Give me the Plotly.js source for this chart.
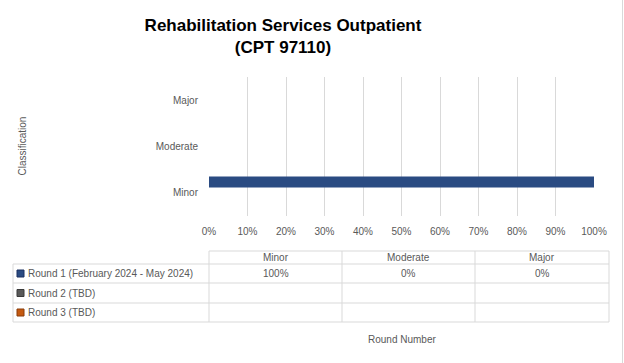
<!DOCTYPE html>
<html><head><meta charset="utf-8">
<script src="https://cdn.plot.ly/plotly-3.0.1.min.js"></script>
<style>html,body{margin:0;padding:0;background:#fff}</style></head>
<body>
<div id="chart" style="width:624px;height:363px"></div>
<script>
const categories = ['Minor', 'Moderate', 'Major'];
const seriesNames = ['Round 1 (February 2024 - May 2024)', 'Round 2 (TBD)', 'Round 3 (TBD)'];
const round1 = [100, 0, 0];
const round2 = [null, null, null];
const round3 = [null, null, null];
const xTickVals = [0, 10, 20, 30, 40, 50, 60, 70, 80, 90, 100];
const xTickText = ['0%', '10%', '20%', '30%', '40%', '50%', '60%', '70%', '80%', '90%', '100%'];
const seriesColors = ['#2a4b82', '#595959', '#c55a11'];
const seriesLines = ['#1a3160', '#3a3a3a', '#8a3c0a'];

const allSeries = [round1, round2, round3];

const W = 624, H = 363;
const M = {l: 209, r: 30, t: 77, b: 147};
const pw = W - M.l - M.r, ph = H - M.t - M.b;
const px = x => (x - M.l) / pw;
const py = y => (H - M.b - y) / ph;

const font = 'Liberation Sans, Arial, sans-serif';
const grey = '#595959';
const lineCol = '#d9d9d9';

// traces: reversed so Round 1 is drawn at the top of each group
const traces = [];
for (let i = allSeries.length - 1; i >= 0; i--) {
  traces.push({
    type: 'bar', orientation: 'h',
    y: categories, x: allSeries[i], name: seriesNames[i],
    marker: {color: seriesColors[i], line: {color: seriesLines[i], width: 0}},
    showlegend: false, hoverinfo: 'skip'
  });
}

const shapes = [];
const annotations = [];
const hl = (y, x0, x1) => shapes.push({type: 'line', xref: 'paper', yref: 'paper', x0: px(x0), x1: px(x1), y0: py(y), y1: py(y), line: {color: lineCol, width: 1}});
const vl = (x, y0, y1) => shapes.push({type: 'line', xref: 'paper', yref: 'paper', x0: px(x), x1: px(x), y0: py(y0), y1: py(y1), line: {color: lineCol, width: 1}});

// table grid
const colX = [209, 342, 475, 609];
const rowY = [251, 264, 283, 303, 322];
hl(rowY[0], colX[0], colX[3]);
for (let r = 1; r < rowY.length; r++) hl(rowY[r], 13, colX[3]);
vl(13, rowY[1], rowY[4]);
colX.forEach(x => vl(x, rowY[0], rowY[4]));
// chart border right
vl(622.5, 0, H);

// header
categories.forEach((c, j) => {
  annotations.push({xref: 'paper', yref: 'paper', x: px((colX[j] + colX[j + 1]) / 2), y: py((rowY[0] + rowY[1]) / 2),
    text: c, showarrow: false, xanchor: 'center', yanchor: 'middle', font: {family: font, size: 10, color: grey}});
});
// rows
seriesNames.forEach((s, i) => {
  const yc = (rowY[i + 1] + rowY[i + 2]) / 2;
  shapes.push({type: 'rect', xref: 'paper', yref: 'paper', x0: px(17), x1: px(24), y0: py(yc - 3.5), y1: py(yc + 3.5),
    fillcolor: seriesColors[i], line: {color: seriesLines[i], width: 1}});
  annotations.push({xref: 'paper', yref: 'paper', x: px(26), y: py(yc), text: s, showarrow: false,
    xanchor: 'left', yanchor: 'middle', font: {family: font, size: 10, color: grey}});
  allSeries[i].forEach((v, j) => {
    if (v === null) return;
    annotations.push({xref: 'paper', yref: 'paper', x: px((colX[j] + colX[j + 1]) / 2), y: py(yc),
      text: v + '%', showarrow: false, xanchor: 'center', yanchor: 'middle', font: {family: font, size: 10, color: grey}});
  });
});
// axis titles
annotations.push({xref: 'paper', yref: 'paper', x: px(401.5), y: py(339), text: 'Round Number', showarrow: false,
  xanchor: 'center', yanchor: 'middle', font: {family: font, size: 10, color: grey}});
annotations.push({xref: 'paper', yref: 'paper', x: px(22), y: py(146.5), text: 'Classification', showarrow: false,
  textangle: -90, xanchor: 'center', yanchor: 'middle', font: {family: font, size: 10, color: grey}});

const layout = {
  width: W, height: H, margin: M,
  paper_bgcolor: '#fff', plot_bgcolor: '#fff',
  title: {text: '<b>Rehabilitation Services Outpatient<br>(CPT 97110)</b>', xref: 'container', yref: 'container',
    x: 283 / W, xanchor: 'center', y: 1 - 31 / H, yanchor: 'middle',
    font: {family: font, size: 17, color: '#000'}},
  barmode: 'group', bargap: 0.3, bargroupgap: 0,
  xaxis: {range: [0, 100], tickvals: xTickVals, ticktext: xTickText, showgrid: true, gridcolor: lineCol, gridwidth: 1,
    zeroline: false, showline: false, ticks: '', ticklabelstandoff: 8, tickfont: {family: font, size: 10, color: grey}, fixedrange: true},
  yaxis: {categoryorder: 'array', categoryarray: categories, showgrid: false, zeroline: false, showline: false, ticks: '',
    ticklabelstandoff: 10, tickfont: {family: font, size: 10, color: grey}, fixedrange: true},
  shapes: shapes, annotations: annotations, showlegend: false
};

Plotly.newPlot('chart', traces, layout, {displayModeBar: false, staticPlot: true});
</script>
</body></html>
